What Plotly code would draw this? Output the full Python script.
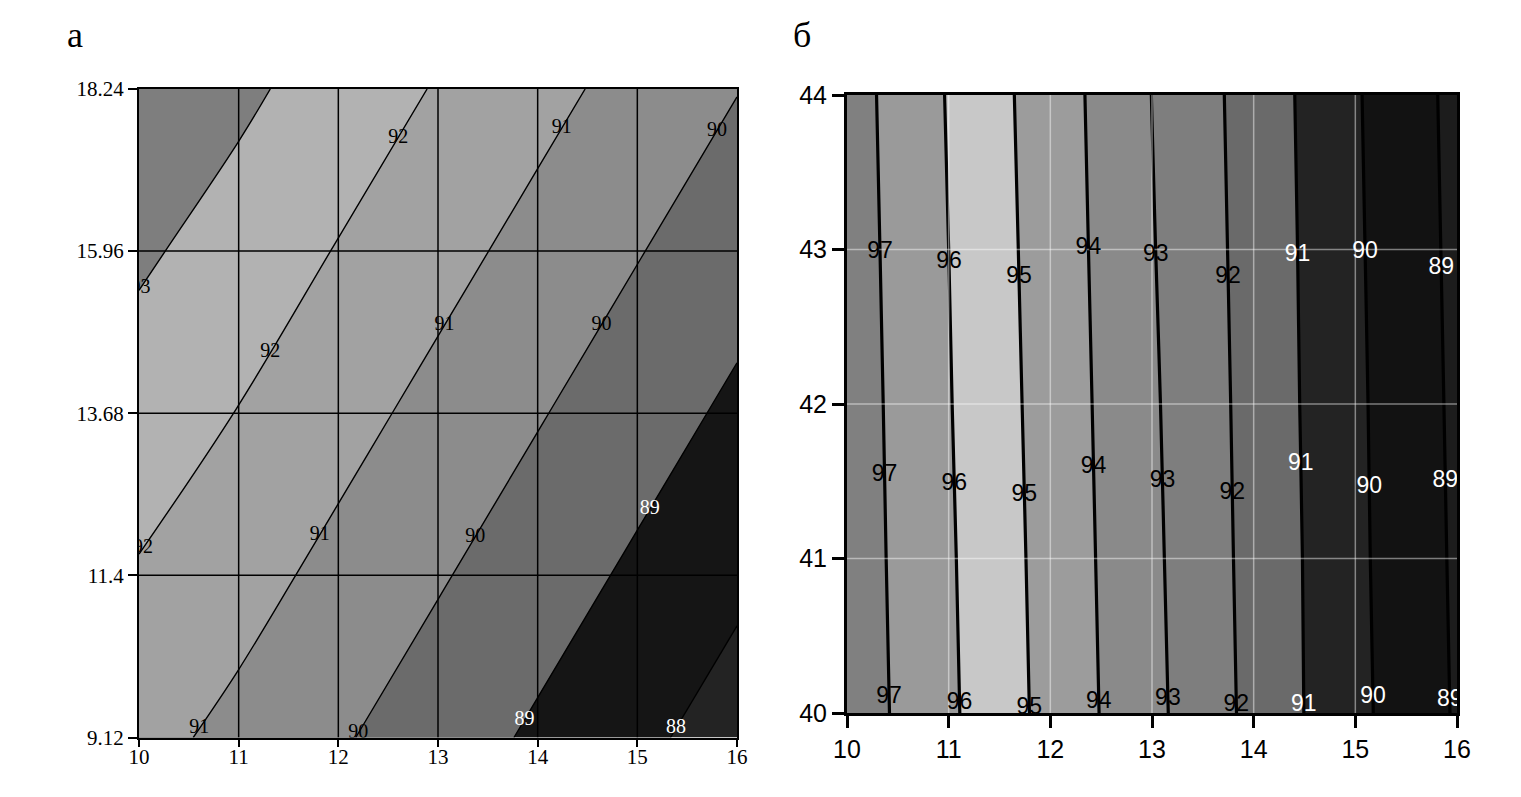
import plotly.graph_objects as go

# ---------- panel "а" data ----------
xa = [10, 11, 12, 13, 14, 15, 16]
ya = [9.12, 11.4, 13.68, 15.96, 18.24]
ya_text = ["9.12", "11.4", "13.68", "15.96", "18.24"]
za = [
    [91.31, 90.74, 90.11, 89.48, 88.85, 88.21, 87.58],
    [91.92, 91.36, 90.73, 90.09, 89.46, 88.83, 88.19],
    [92.53, 91.97, 91.34, 90.71, 90.07, 89.44, 88.81],
    [93.15, 92.58, 91.95, 91.32, 90.69, 90.05, 89.42],
    [93.76, 93.20, 92.57, 91.93, 91.30, 90.67, 90.03],
]
levels_a = [88, 93]
white_label_levels_a = [88, 89]
band_colors_a = ["#232323", "#151515", "#6b6b6b", "#8c8c8c", "#a2a2a2", "#b2b2b2", "#7e7e7e"]
# heights at which each contour level is labelled
label_rows_a = {
    93: [15.44],
    92: [17.55, 14.54, 11.78],
    91: [17.69, 14.92, 11.97, 9.25],
    90: [17.65, 14.92, 11.94, 9.18],
    89: [12.33, 9.37],
    88: [9.25],
}

# ---------- panel "б" data ----------
xb = [10, 10.5, 11, 11.5, 12, 12.5, 13, 13.5, 14, 14.5, 15, 15.5, 16]
yb = [40, 41, 42, 43, 44]
zb = [
    [97.61, 96.88, 96.16, 95.43, 94.70, 93.97, 93.24, 92.49, 91.75, 90.99, 90.24, 89.56, 88.91],
    [97.57, 96.83, 96.11, 95.38, 94.65, 93.92, 93.18, 92.44, 91.71, 90.97, 90.20, 89.52, 88.87],
    [97.52, 96.79, 96.05, 95.32, 94.60, 93.87, 93.12, 92.40, 91.67, 90.93, 90.17, 89.49, 88.83],
    [97.48, 96.74, 96.00, 95.27, 94.54, 93.82, 93.05, 92.35, 91.63, 90.90, 90.13, 89.45, 88.79],
    [97.43, 96.69, 95.94, 95.21, 94.49, 93.77, 92.99, 92.30, 91.59, 90.86, 90.09, 89.41, 88.75],
]
xb_ticks = [10, 11, 12, 13, 14, 15, 16]
yb_ticks = [40, 41, 42, 43, 44]
levels_b = [89, 97]
white_label_levels_b = [89, 90, 91]
band_colors_b = ["#1c1c1c", "#121212", "#232323", "#6a6a6a", "#7e7e7e",
                 "#8a8a8a", "#9c9c9c", "#c8c8c8", "#9a9a9a", "#808080"]
label_rows_b = {
    97: [42.98, 41.54, 40.10],
    96: [42.92, 41.48, 40.06],
    95: [42.82, 41.41, 40.03],
    94: [43.01, 41.59, 40.07],
    93: [42.96, 41.50, 40.09],
    92: [42.82, 41.42, 40.05],
    91: [42.96, 41.61, 40.05],
    90: [42.98, 41.46, 40.10],
    89: [42.88, 41.50, 40.08],
}


def scale(colors):
    n = len(colors) - 1
    return [[i / n, c] for i, c in enumerate(colors)]


def crossing(xs, ys, z, level, y):
    """x where the (linearly interpolated) surface equals level at height y."""
    j = 0
    while j < len(ys) - 2 and y > ys[j + 1]:
        j += 1
    t = (y - ys[j]) / (ys[j + 1] - ys[j])
    row = [a * (1 - t) + b * t for a, b in zip(z[j], z[j + 1])]
    for i in range(len(xs) - 1):
        a, b = row[i] - level, row[i + 1] - level
        if a == 0:
            return xs[i]
        if a * b < 0:
            return xs[i] + (level - row[i]) / (row[i + 1] - row[i]) * (xs[i + 1] - xs[i])
    if (row[0] - level) * (row[1] - row[0]) > 0:
        i = 0
    else:
        i = len(xs) - 2
    return xs[i] + (level - row[i]) / (row[i + 1] - row[i]) * (xs[i + 1] - xs[i])


def label_trace(xs, ys, z, rows, white, xaxis, yaxis, font):
    lx, ly, lt, lc = [], [], [], []
    for lev, yl in rows.items():
        for y in yl:
            lx.append(crossing(xs, ys, z, lev, y))
            ly.append(y)
            lt.append(str(lev))
            lc.append("white" if lev in white else "black")
    return go.Scatter(x=lx, y=ly, text=lt, mode="text", xaxis=xaxis, yaxis=yaxis,
                      textfont=dict(family=font[0], size=font[1], color=lc),
                      cliponaxis=True, hoverinfo="skip")


def grid_trace(vx, vy, xr, yr, xaxis, yaxis, color):
    gx, gy = [], []
    for v in vx:
        gx += [v, v, None]
        gy += [yr[0], yr[1], None]
    for v in vy:
        gx += [xr[0], xr[1], None]
        gy += [v, v, None]
    return go.Scatter(x=gx, y=gy, mode="lines", xaxis=xaxis, yaxis=yaxis,
                      line=dict(color=color, width=1.5), hoverinfo="skip")


fig = go.Figure()

fig.add_trace(go.Contour(
    x=xa, y=ya, z=za, xaxis="x", yaxis="y", showscale=False,
    autocontour=False, colorscale=scale(band_colors_a),
    contours=dict(start=levels_a[0], end=levels_a[1], size=1, coloring="fill", showlines=True),
    line=dict(color="black", width=1.4), hoverinfo="skip"))
fig.add_trace(go.Contour(
    x=xb, y=yb, z=zb, xaxis="x2", yaxis="y2", showscale=False,
    autocontour=False, colorscale=scale(band_colors_b),
    contours=dict(start=levels_b[0], end=levels_b[1], size=1, coloring="fill", showlines=True),
    line=dict(color="black", width=3.2), hoverinfo="skip"))

fig.add_trace(grid_trace(xa[1:-1], ya[1:-1], [xa[0], xa[-1]], [ya[0], ya[-1]],
                         "x", "y", "black"))
fig.add_trace(grid_trace(xb_ticks[1:-1], yb_ticks[1:-1], [xb_ticks[0], xb_ticks[-1]],
                         [yb_ticks[0], yb_ticks[-1]], "x2", "y2", "rgba(255,255,255,0.45)"))

fig.add_trace(label_trace(xa, ya, za, label_rows_a, white_label_levels_a, "x", "y",
                          ("Liberation Serif", 20)))
fig.add_trace(label_trace(xb, yb, zb, label_rows_b, white_label_levels_b, "x2", "y2",
                          ("Liberation Sans", 23)))

# page body adds an 8px margin; lay the figure out in screen pixels minus that offset
OFF = 8
W, H = 1521 - OFF, 797 - OFF


def xd(p0, p1):
    return [(p0 - OFF) / W, (p1 - OFF) / W]


def yd(top, bottom):
    return [1 - (bottom - OFF) / H, 1 - (top - OFF) / H]


serif_tick = dict(family="Liberation Serif", size=21, color="black")
sans_tick = dict(family="Liberation Sans", size=25, color="black")
common = dict(showgrid=False, zeroline=False, showline=True, mirror=True, automargin=False,
              linecolor="black", ticks="outside", tickcolor="black", layer="above traces")

fig.update_layout(
    width=W, height=H, margin=dict(l=0, r=0, t=0, b=0, autoexpand=False),
    paper_bgcolor="white", plot_bgcolor="white", showlegend=False,
    xaxis=dict(domain=xd(139, 737), range=[10, 16], tickvals=xa, ticklabelstandoff=-8,
               tickfont=serif_tick, linewidth=2, ticklen=7, tickwidth=2, anchor="y", **common),
    yaxis=dict(domain=yd(89, 737.5), range=[ya[0], ya[-1]], tickvals=ya,
               ticktext=ya_text, tickfont=serif_tick, linewidth=2, ticklen=9, tickwidth=2,
               anchor="x", **common),
    xaxis2=dict(domain=xd(847, 1457), range=[10, 16], tickvals=xb_ticks,
                tickfont=sans_tick, linewidth=3, ticklen=12, tickwidth=3, anchor="y2", **common),
    yaxis2=dict(domain=yd(95, 713), range=[40, 44], tickvals=yb_ticks,
                tickfont=sans_tick, linewidth=3, ticklen=12, tickwidth=3, anchor="x2", **common),
    annotations=[
        dict(text="а", xref="paper", yref="paper", x=(75 - OFF) / W, y=1 - (35 - OFF) / H,
             showarrow=False, xanchor="center", yanchor="middle",
             font=dict(family="Liberation Serif", size=36, color="black")),
        dict(text="б", xref="paper", yref="paper", x=(802 - OFF) / W, y=1 - (35 - OFF) / H,
             showarrow=False, xanchor="center", yanchor="middle",
             font=dict(family="Liberation Serif", size=36, color="black")),
    ],
)

fig.write_html("out.html")
